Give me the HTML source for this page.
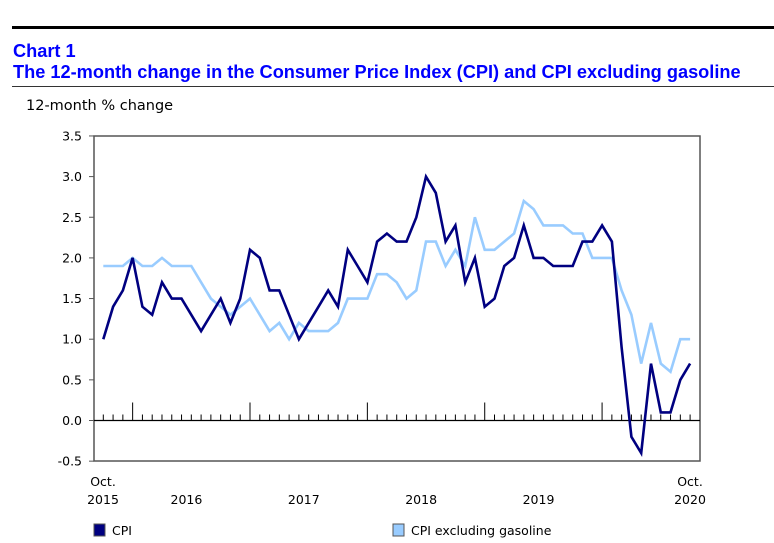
<!DOCTYPE html>
<html><head><meta charset="utf-8"><style>
body{margin:0;background:#fff;width:774px;height:543px;overflow:hidden;font-family:"DejaVu Sans","Liberation Sans",sans-serif;}
.t{position:absolute;color:#0000ff;font-family:"Liberation Sans",sans-serif;font-weight:bold;font-size:18.2px;left:13px;white-space:nowrap;}
</style></head><body>
<div style="position:absolute;left:12px;top:26px;width:762px;height:3px;background:#000"></div>
<div class="t" style="top:41px">Chart 1</div>
<div class="t" style="top:62px">The 12-month change in the Consumer Price Index (CPI) and CPI excluding gasoline</div>
<div style="position:absolute;left:12px;top:86px;width:762px;height:1px;background:#333"></div>
<svg id="c" width="774" height="543" style="position:absolute;left:0;top:0"></svg>
<script>
const cpi=[1.0,1.4,1.6,2.0,1.4,1.3,1.7,1.5,1.5,1.3,1.1,1.3,1.5,1.2,1.5,2.1,2.0,1.6,1.6,1.3,1.0,1.2,1.4,1.6,1.4,2.1,1.9,1.7,2.2,2.3,2.2,2.2,2.5,3.0,2.8,2.2,2.4,1.7,2.0,1.4,1.5,1.9,2.0,2.4,2.0,2.0,1.9,1.9,1.9,2.2,2.2,2.4,2.2,0.9,-0.2,-0.4,0.7,0.1,0.1,0.5,0.7];
const exGas=[1.9,1.9,1.9,2.0,1.9,1.9,2.0,1.9,1.9,1.9,1.7,1.5,1.4,1.3,1.4,1.5,1.3,1.1,1.2,1.0,1.2,1.1,1.1,1.1,1.2,1.5,1.5,1.5,1.8,1.8,1.7,1.5,1.6,2.2,2.2,1.9,2.1,1.9,2.5,2.1,2.1,2.2,2.3,2.7,2.6,2.4,2.4,2.4,2.3,2.3,2.0,2.0,2.0,1.6,1.3,0.7,1.2,0.7,0.6,1.0,1.0];
const yTicks=[3.5,3.0,2.5,2.0,1.5,1.0,0.5,0.0,-0.5];
const years=["2016","2017","2018","2019"];
const NS="http://www.w3.org/2000/svg";
const svg=document.getElementById('c');
const x=i=>103.3+i*9.78;
const y=v=>420.5-v*81.3;
function mk(t,a,txt){const e=document.createElementNS(NS,t);for(const k in a)e.setAttribute(k,a[k]);if(txt!==undefined)e.textContent=txt;svg.appendChild(e);return e;}
let e;
e=mk('rect',{x:94,y:136,width:606,height:325,fill:'none',stroke:'#555','stroke-width':1.5});


yTicks.forEach(v=>{
 e=mk('line',{x1:89,x2:94,y1:y(v),y2:y(v),stroke:'#555'});
 
 
 e=mk('text',{x:82,y:y(v)+4.5,'text-anchor':'end','font-size':12.5,fill:'#000'},v.toFixed(1));
 
 
});
e=mk('line',{x1:94,x2:700,y1:y(0),y2:y(0),stroke:'#000','stroke-width':1.3});


for(let i=0;i<cpi.length;i++){
 const big=(i-3)%12===0;
 e=mk('line',{x1:x(i),x2:x(i),y1:y(0),y2:y(0)-(big?18:6),stroke:'#000','stroke-width':1});
 
 
}
function line(data,color,name){
 const d=data.map((v,i)=>(i?'L':'M')+x(i).toFixed(1)+','+y(v).toFixed(1)).join('');
 e=mk('path',{d:d,fill:'none',stroke:color,'stroke-width':2.6,'stroke-linejoin':'miter'});
 
 
}
line(exGas,'#99ccff','cpi-ex-gasoline-line');
line(cpi,'#000080','cpi-line');
e=mk('text',{x:103,y:486,'text-anchor':'middle','font-size':12.5},'Oct.');


e=mk('text',{x:103,y:504,'text-anchor':'middle','font-size':12.5},'2015');


years.forEach((yr,k)=>{
 e=mk('text',{x:(x(3+12*k)+x(14+12*k))/2,y:504,'text-anchor':'middle','font-size':12.5},yr);
 
 
});
e=mk('text',{x:690,y:486,'text-anchor':'middle','font-size':12.5},'Oct.');


e=mk('text',{x:690,y:504,'text-anchor':'middle','font-size':12.5},'2020');


e=mk('text',{x:26,y:110,'font-size':14.5},'12-month % change');


[[94,'#000080','CPI','legend-cpi'],[393,'#99ccff','CPI excluding gasoline','legend-cpi-ex-gasoline']].forEach(([lx,c,t,n])=>{
 const g=mk('g',{});
 
 
 const r=document.createElementNS(NS,'rect');
 r.setAttribute('x',lx);r.setAttribute('y',524);r.setAttribute('width',11);r.setAttribute('height',12);r.setAttribute('fill',c);r.setAttribute('stroke','#555');
 g.appendChild(r);
 const tx=document.createElementNS(NS,'text');
 tx.setAttribute('x',lx+18);tx.setAttribute('y',535);tx.setAttribute('font-size',12.5);tx.textContent=t;
 g.appendChild(tx);
});
</script>
</body></html>
